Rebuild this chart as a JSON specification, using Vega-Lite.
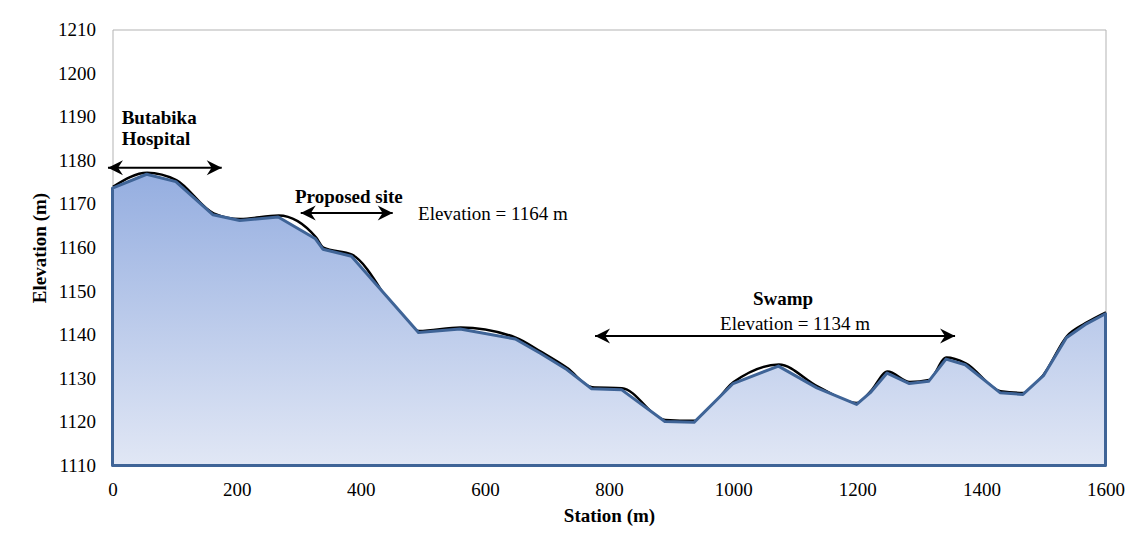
{
  "$schema": "https://vega.github.io/schema/vega-lite/v6.json",
  "width": 993,
  "height": 436,
  "autosize": {"type": "none"},
  "padding": {"left": 112.5, "top": 29.5, "right": 30.5, "bottom": 79.5},
  "background": "white",
  "config": {
    "view": {"stroke": "#b3b3b3", "strokeWidth": 1},
    "font": "Liberation Serif",
    "axis": {
      "labelFont": "Liberation Serif",
      "labelFontSize": 19,
      "labelColor": "black",
      "labelFlush": false,
      "labelOverlap": false,
      "format": "d",
      "titleFont": "Liberation Serif",
      "titleFontSize": 19,
      "titleFontWeight": "bold",
      "titleColor": "black",
      "ticks": false,
      "domain": false,
      "grid": false
    }
  },
  "datasets": {
    "profile": [
      {"station": 0, "elevation": 1173.6},
      {"station": 55, "elevation": 1176.8},
      {"station": 102, "elevation": 1175.1},
      {"station": 162, "elevation": 1167.5},
      {"station": 205, "elevation": 1166.2},
      {"station": 267, "elevation": 1167.0},
      {"station": 327, "elevation": 1162.0},
      {"station": 339, "elevation": 1159.6},
      {"station": 385, "elevation": 1158.0},
      {"station": 493, "elevation": 1140.5},
      {"station": 560, "elevation": 1141.3},
      {"station": 649, "elevation": 1139.0},
      {"station": 690, "elevation": 1135.7},
      {"station": 732, "elevation": 1132.0},
      {"station": 772, "elevation": 1127.6},
      {"station": 820, "elevation": 1127.4},
      {"station": 890, "elevation": 1120.1},
      {"station": 937, "elevation": 1119.9},
      {"station": 1000, "elevation": 1128.8},
      {"station": 1073, "elevation": 1132.8},
      {"station": 1135, "elevation": 1127.8},
      {"station": 1199, "elevation": 1124.0},
      {"station": 1221, "elevation": 1126.7},
      {"station": 1248, "elevation": 1131.2},
      {"station": 1284, "elevation": 1128.8},
      {"station": 1315, "elevation": 1129.3},
      {"station": 1343, "elevation": 1134.4},
      {"station": 1374, "elevation": 1133.1},
      {"station": 1430, "elevation": 1126.7},
      {"station": 1467, "elevation": 1126.3},
      {"station": 1500, "elevation": 1130.6},
      {"station": 1537, "elevation": 1139.3},
      {"station": 1567, "elevation": 1142.3},
      {"station": 1600, "elevation": 1144.8}
    ],
    "arrows": [
      {"name": "Butabika Hospital", "from": -7.3, "to": 176, "level": 1178.3},
      {"name": "Proposed site", "from": 303.3, "to": 451.5, "level": 1167.9},
      {"name": "Swamp", "from": 777.5, "to": 1357.6, "level": 1139.7}
    ],
    "names": [
      {"label": "Butabika", "station": 14.8, "elevation": 1188.35},
      {"label": "Hospital", "station": 14.8, "elevation": 1183.4},
      {"label": "Proposed site", "station": 294, "elevation": 1170.25},
      {"label": "Swamp", "station": 1032, "elevation": 1146.9}
    ],
    "notes": [
      {"label": "Elevation = 1164 m", "station": 492.3, "elevation": 1166.2},
      {"label": "Elevation = 1134 m", "station": 979, "elevation": 1141.0}
    ]
  },
  "layer": [
    {
      "data": {"name": "profile"},
      "mark": {"type": "line", "color": "black", "strokeWidth": 2.5, "interpolate": "monotone", "yOffset": -1.5, "xOffset": 0.5},
      "encoding": {
        "x": {"field": "station", "type": "quantitative", "scale": {"domain": [0, 1600], "nice": false},
          "axis": {"values": [0, 200, 400, 600, 800, 1000, 1200, 1400, 1600], "title": "Station (m)", "labelPadding": 15, "titlePadding": 7}},
        "y": {"field": "elevation", "type": "quantitative", "scale": {"domain": [1110, 1210], "nice": false, "zero": false},
          "axis": {"values": [1110, 1120, 1130, 1140, 1150, 1160, 1170, 1180, 1190, 1200, 1210], "title": "Elevation (m)", "labelPadding": 17, "titlePadding": 8}}
      }
    },
    {
      "data": {"name": "profile"},
      "mark": {
        "type": "area",
        "stroke": "#3f6497",
        "strokeWidth": 3,
        "strokeJoin": "round",
        "fill": {
          "gradient": "linear", "x1": 0, "y1": 0, "x2": 0, "y2": 1,
          "stops": [{"offset": 0, "color": "#95aee0"}, {"offset": 1, "color": "#e1e7f5"}]
        }
      },
      "encoding": {
        "x": {"field": "station", "type": "quantitative"},
        "y": {"field": "elevation", "type": "quantitative"},
        "y2": {"datum": 1110}
      }
    },
    {
      "data": {"name": "arrows"},
      "mark": {"type": "rule", "color": "black", "strokeWidth": 2},
      "encoding": {
        "x": {"field": "from", "type": "quantitative"},
        "x2": {"field": "to"},
        "y": {"field": "level", "type": "quantitative"}
      }
    },
    {
      "data": {"name": "arrows"},
      "mark": {"type": "point", "shape": "M0,0L2,-1L1.35,0L2,1Z", "size": 225, "filled": true, "color": "black", "opacity": 1, "strokeWidth": 0},
      "encoding": {
        "x": {"field": "from", "type": "quantitative"},
        "y": {"field": "level", "type": "quantitative"}
      }
    },
    {
      "data": {"name": "arrows"},
      "mark": {"type": "point", "shape": "M0,0L-2,-1L-1.35,0L-2,1Z", "size": 225, "filled": true, "color": "black", "opacity": 1, "strokeWidth": 0},
      "encoding": {
        "x": {"field": "to", "type": "quantitative"},
        "y": {"field": "level", "type": "quantitative"}
      }
    },
    {
      "data": {"name": "names"},
      "mark": {"type": "text", "font": "Liberation Serif", "fontSize": 19, "fontWeight": "bold", "align": "left", "baseline": "alphabetic", "color": "black"},
      "encoding": {
        "x": {"field": "station", "type": "quantitative"},
        "y": {"field": "elevation", "type": "quantitative"},
        "text": {"field": "label"}
      }
    },
    {
      "data": {"name": "notes"},
      "mark": {"type": "text", "font": "Liberation Serif", "fontSize": 19, "align": "left", "baseline": "alphabetic", "color": "black"},
      "encoding": {
        "x": {"field": "station", "type": "quantitative"},
        "y": {"field": "elevation", "type": "quantitative"},
        "text": {"field": "label"}
      }
    }
  ]
}
